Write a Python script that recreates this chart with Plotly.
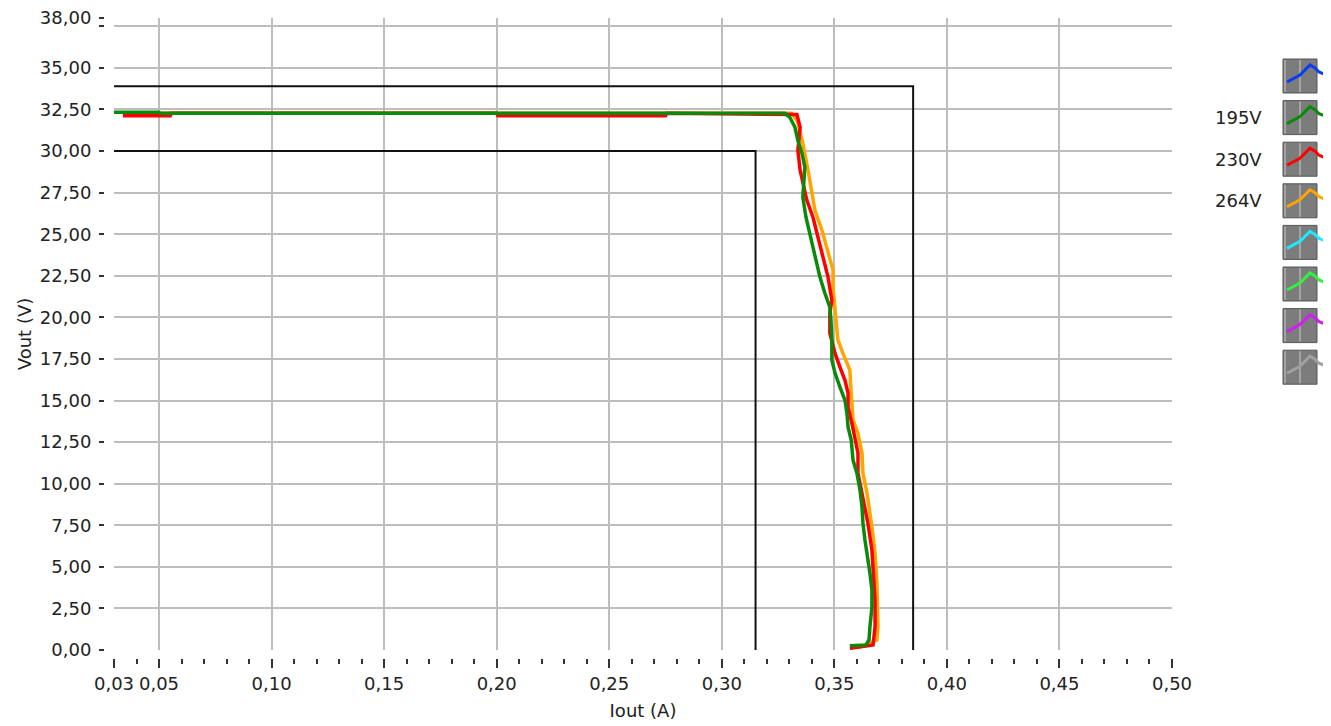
import plotly.graph_objects as go

# ---------------- data ----------------
iout_195 = [0.030, 0.050, 0.0505, 0.200, 0.328, 0.3302, 0.3325, 0.3338, 0.3356, 0.3369, 0.3360, 0.3374,
            0.3391, 0.3414, 0.3436, 0.3458, 0.3480, 0.3485, 0.3489, 0.3489, 0.3503, 0.3525, 0.3547, 0.3556,
            0.3561, 0.3575, 0.3583, 0.3600, 0.3614, 0.3623, 0.3627, 0.3636, 0.3649, 0.3658, 0.3667, 0.3667,
            0.3658, 0.3654, 0.3640, 0.3569]
vout_195 = [32.33, 32.33, 32.27, 32.27, 32.27, 32.03, 31.43, 30.65, 29.87, 29.03, 27.22, 26.02,
            25.06, 23.86, 22.42, 21.45, 20.61, 19.83, 18.63, 17.43, 16.65, 15.81, 15.02, 14.24,
            13.40, 12.62, 11.42, 10.64, 9.62, 8.59, 7.63, 6.61, 5.59, 4.63, 3.61, 2.58,
            1.38, 0.60, 0.30, 0.25]

iout_230 = [0.034, 0.055, 0.0555, 0.200, 0.2005, 0.275, 0.2755, 0.3334, 0.3348, 0.3338, 0.3348, 0.3378,
            0.3405, 0.3427, 0.3449, 0.3472, 0.3489, 0.3480, 0.3480, 0.3503, 0.3525, 0.3547, 0.3561,
            0.3561, 0.3578, 0.3592, 0.3605, 0.3605, 0.3627, 0.3649, 0.3667, 0.3672, 0.3681, 0.3681,
            0.3672, 0.3569]
vout_230 = [32.12, 32.12, 32.27, 32.27, 32.12, 32.12, 32.27, 32.20, 31.43, 30.05, 28.85, 27.04,
            26.02, 24.82, 23.62, 22.42, 21.03, 20.25, 19.05, 17.85, 17.01, 16.23, 15.44,
            14.60, 13.64, 12.80, 11.84, 10.64, 9.19, 7.63, 6.01, 4.63, 3.00, 1.38,
            0.30, 0.10]

iout_264 = [0.034, 0.331, 0.3336, 0.3360, 0.3383, 0.3400, 0.3414, 0.3445, 0.3472, 0.3494, 0.3494,
            0.3503, 0.3516, 0.3538, 0.3569, 0.3574, 0.3583, 0.3605, 0.3623, 0.3627, 0.3645, 0.3667,
            0.3681, 0.3689, 0.3694, 0.3694, 0.3689, 0.3614]
vout_264 = [32.27, 32.27, 31.80, 30.47, 28.85, 27.64, 26.44, 25.24, 23.86, 22.84, 21.81,
            20.25, 18.63, 17.85, 16.83, 15.63, 13.82, 13.04, 11.84, 10.64, 9.44, 7.39,
            5.83, 4.03, 2.22, 1.38, 0.60, 0.18]

limit_outer_x = [0.03, 0.385, 0.385]
limit_outer_y = [33.9, 33.9, 0.0]
limit_inner_x = [0.03, 0.315, 0.315]
limit_inner_y = [30.0, 30.0, 0.0]

x_tickvals = [0.03, 0.05, 0.10, 0.15, 0.20, 0.25, 0.30, 0.35, 0.40, 0.45, 0.50]
x_ticktext = ["0,03", "0,05", "0,10", "0,15", "0,20", "0,25", "0,30", "0,35", "0,40", "0,45", "0,50"]
x_gridvals = [0.05, 0.10, 0.15, 0.20, 0.25, 0.30, 0.35, 0.40, 0.45]
y_tickvals = [0, 2.5, 5, 7.5, 10, 12.5, 15, 17.5, 20, 22.5, 25, 27.5, 30, 32.5, 35, 37.5, 38]
y_ticktext = ["0,00", "2,50", "5,00", "7,50", "10,00", "12,50", "15,00", "17,50", "20,00", "22,50",
              "25,00", "27,50", "30,00", "32,50", "35,00", "", "38,00"]
y_gridvals = [2.5, 5, 7.5, 10, 12.5, 15, 17.5, 20, 22.5, 25, 27.5, 30, 32.5, 35, 37.5]

legend_names = ["", "195V", "230V", "264V", "", "", "", ""]
legend_colors = ["#0a3cf0", "#0a8a0a", "#ff0000", "#ffa500", "#20e8ff", "#30f040", "#d020f0", "#a0a0a0"]

c195, c230, c264 = "#0a8a0a", "#ff0000", "#ffa500"

# ---------------- layout geometry (page pixels; page body has an 8px margin) ----------------
OFF = 8
W, H = 1331 - OFF, 726 - OFF
ML, MR, MT, MB = 100 - OFF, 159, 18 - OFF, 66
PW = W - ML - MR
PH = H - MT - MB


def px(xp):
    return (xp - OFF - ML) / PW


def py(yp):
    return 1 - (yp - OFF - MT) / PH


FONT = "DejaVu Sans"
FS = 18
TXT = "#222222"
GRID = "#bdbdbd"

fig = go.Figure()
fig.add_trace(go.Scatter(x=limit_outer_x, y=limit_outer_y, mode="lines",
                         line=dict(color="#111111", width=2), showlegend=False, hoverinfo="skip"))
fig.add_trace(go.Scatter(x=limit_inner_x, y=limit_inner_y, mode="lines",
                         line=dict(color="#111111", width=2), showlegend=False, hoverinfo="skip"))
fig.add_trace(go.Scatter(x=iout_264, y=vout_264, mode="lines", name="264V",
                         line=dict(color=c264, width=3.5), showlegend=False))
fig.add_trace(go.Scatter(x=iout_230, y=vout_230, mode="lines", name="230V",
                         line=dict(color=c230, width=3.5), showlegend=False))
fig.add_trace(go.Scatter(x=iout_195, y=vout_195, mode="lines", name="195V",
                         line=dict(color=c195, width=3.5), showlegend=False))
# empty trace on the overlay axis that only carries the vertical grid
fig.add_trace(go.Scatter(x=[None], y=[None], xaxis="x2", yaxis="y", showlegend=False, hoverinfo="skip"))

# custom LabVIEW-style legend (text left of icon)
shapes = []
annotations = []
for i, (name, col) in enumerate(zip(legend_names, legend_colors)):
    top = 59 + i * 41.6
    shapes.append(dict(type="rect", xref="paper", yref="paper",
                       x0=px(1283), x1=px(1317), y0=py(top + 34), y1=py(top),
                       fillcolor="#7c7c7c", line=dict(color="#555555", width=1)))
    shapes.append(dict(type="line", xref="paper", yref="paper",
                       x0=px(1285), x1=px(1285), y0=py(top + 33), y1=py(top + 1),
                       line=dict(color="#b0b0b0", width=1.5)))
    shapes.append(dict(type="line", xref="paper", yref="paper",
                       x0=px(1300), x1=px(1300), y0=py(top + 33), y1=py(top + 1),
                       line=dict(color="#b0b0b0", width=1.5)))
    pts = [(1287, 23), (1300, 16), (1310, 6), (1315, 9), (1319, 13), (1324, 15)]
    path = "M " + " L ".join(f"{px(a):.5f},{py(top + b):.5f}" for a, b in pts)
    shapes.append(dict(type="path", xref="paper", yref="paper", path=path,
                       line=dict(color=col, width=3)))
    if name:
        annotations.append(dict(x=px(1264), y=py(top + 17), xref="paper", yref="paper",
                                text=name, showarrow=False, xanchor="right", yanchor="middle",
                                font=dict(family=FONT, size=FS, color=TXT)))

fig.update_layout(
    width=W, height=H,
    margin=dict(l=ML, r=MR, t=MT, b=MB, autoexpand=False),
    paper_bgcolor="white", plot_bgcolor="white",
    font=dict(family=FONT, size=FS, color=TXT),
    shapes=shapes, annotations=annotations,
    xaxis=dict(
        domain=[px(114), 1], range=[0.03, 0.50], anchor="free", position=py(658),
        tickmode="array", tickvals=x_tickvals, ticktext=x_ticktext,
        ticks="outside", ticklen=9, tickwidth=2, tickcolor="#333333",
        minor=dict(dtick=0.01, tick0=0.0, ticks="outside", ticklen=5, tickwidth=2, tickcolor="#333333",
                   showgrid=False),
        showgrid=False,
        showline=False, zeroline=False,
        tickfont=dict(family=FONT, size=FS, color=TXT),
        ticklabeloverflow="allow",
        title=dict(text="Iout (A)", font=dict(family=FONT, size=FS, color=TXT), standoff=11),
        automargin=False,
    ),
    xaxis2=dict(
        overlaying="x", matches="x", anchor="y",
        tickmode="array", tickvals=x_gridvals,
        showticklabels=False, ticks="",
        showgrid=True, gridcolor=GRID, gridwidth=2,
        showline=False, zeroline=False,
        automargin=False,
    ),
    yaxis=dict(
        domain=[py(650), 1], range=[0, 38], anchor="free", position=px(104),
        tickmode="array", tickvals=y_tickvals, ticktext=y_ticktext,
        ticks="outside", ticklen=5, tickwidth=2, tickcolor="#333333",
        showgrid=False,
        minor=dict(tickmode="array", tickvals=y_gridvals, ticks="", showgrid=True,
                   gridcolor=GRID, gridwidth=2),
        showline=False, zeroline=False,
        tickfont=dict(family=FONT, size=FS, color=TXT),
        ticklabeloverflow="allow",
        ticklabelstandoff=4,
        title=dict(text="Vout (V)", font=dict(family=FONT, size=FS, color=TXT), standoff=2),
        automargin=False,
    ),
)

fig.write_html("out.html")
